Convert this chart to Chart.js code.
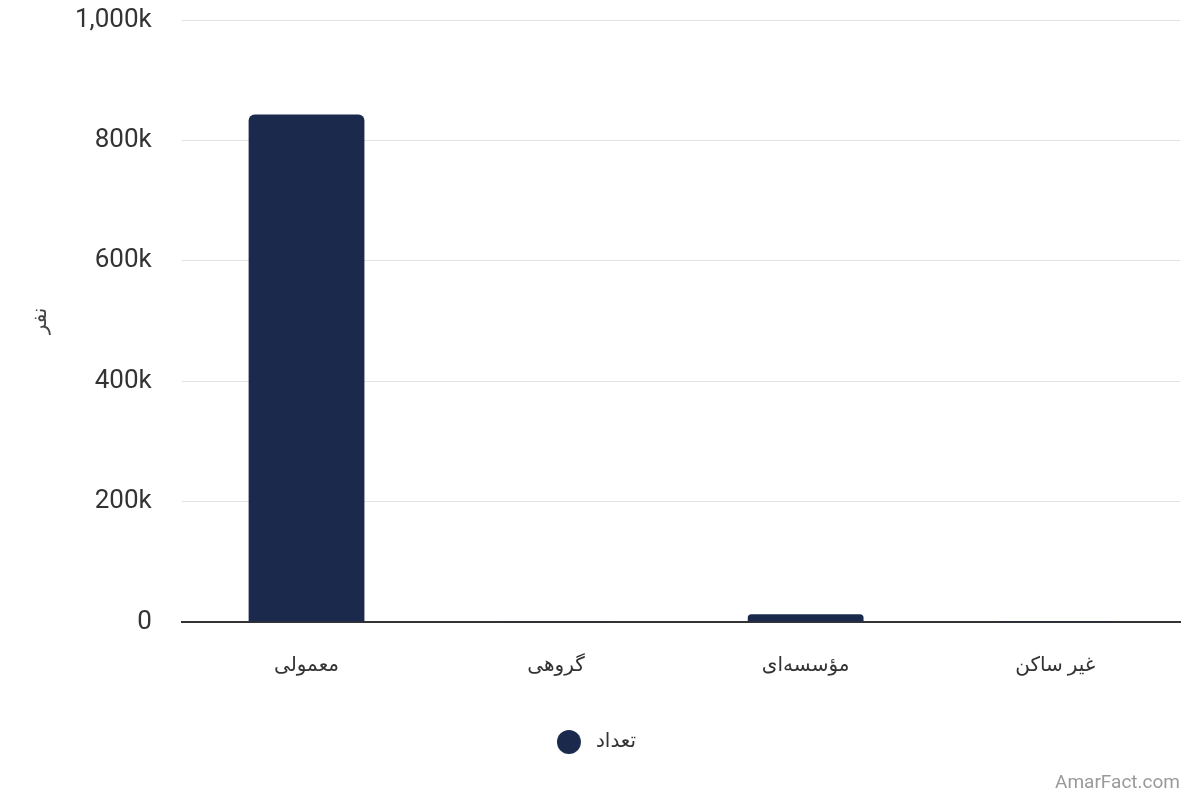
<!DOCTYPE html>
<html>
<head>
<meta charset="utf-8">
<script src="https://cdn.jsdelivr.net/npm/chart.js@4.4.1/dist/chart.umd.min.js"></script>
<style>
  html, body { margin: 0; padding: 0; background: #fff; }
  .wrap { position: relative; width: 1200px; height: 800px; }
  .brand { position: absolute; right: 20px; bottom: 7px; font: 19px Roboto, sans-serif; color: #9a9a9a; }
</style>
</head>
<body>
<div class="wrap">
  <canvas id="chart" width="1200" height="800"></canvas>
  <div class="brand">AmarFact.com</div>
</div>
<script>
"use strict";
// data
var categories = ['معمولی', 'گروهی', 'مؤسسه‌ای', 'غیر ساکن'];
var counts = [843000, 500, 13000, 200];
var seriesName = 'تعداد';
var axisTitle = 'نفر';
var navy = '#1b2a4c';
var font = "Roboto, 'DejaVu Sans', sans-serif";

function kLabel(v) {
	return v === 0 ? '0' : (v / 1000).toLocaleString('en-US') + 'k';
}

// legend marker: circle sitting at the left of a wider image, leaves a gap before the text
var marker = document.createElement('canvas');
marker.width = 38;
marker.height = 24;
var mctx = marker.getContext('2d');
mctx.fillStyle = navy;
mctx.beginPath();
mctx.arc(12, 12, 12, 0, Math.PI * 2);
mctx.fill();

var ctx = document.getElementById('chart').getContext('2d');
new Chart(ctx, {
	type: 'bar',
	data: {
		labels: categories,
		datasets: [{
			label: seriesName,
			data: counts,
			backgroundColor: navy,
			borderRadius: { topLeft: 6, topRight: 6 },
			borderSkipped: 'bottom',
			barPercentage: 0.58,
			categoryPercentage: 0.8
		}]
	},
	options: {
		responsive: false,
		animation: false,
		layout: { padding: { top: 0, right: 20, bottom: 38, left: 22 } },
		plugins: {
			tooltip: { enabled: false },
			legend: {
				position: 'bottom',
				labels: {
					usePointStyle: true,
					pointStyle: marker,
					boxWidth: 24,
					boxHeight: 24,
					padding: 22,
					color: '#333',
					font: { family: font, size: 20 }
				}
			}
		},
		scales: {
			x: {
				grid: { display: false, drawTicks: false },
				border: { color: '#333', width: 2 },
				ticks: { color: '#333', padding: 32, font: { family: font, size: 20 } }
			},
			y: {
				min: 0,
				max: 1000000,
				afterFit: function(scale) { scale.paddingTop = 20; },
				ticks: {
					stepSize: 200000,
					padding: 30,
					color: '#333',
					font: { family: font, size: 26 },
					callback: kLabel
				},
				grid: { color: '#e3e3e3', drawTicks: false },
				border: { display: false },
				title: {
					display: true,
					text: axisTitle,
					color: '#444',
					padding: { top: 7, bottom: -8 },
					font: { family: font, size: 20 }
				}
			}
		}
	}
});
</script>
</body>
</html>
